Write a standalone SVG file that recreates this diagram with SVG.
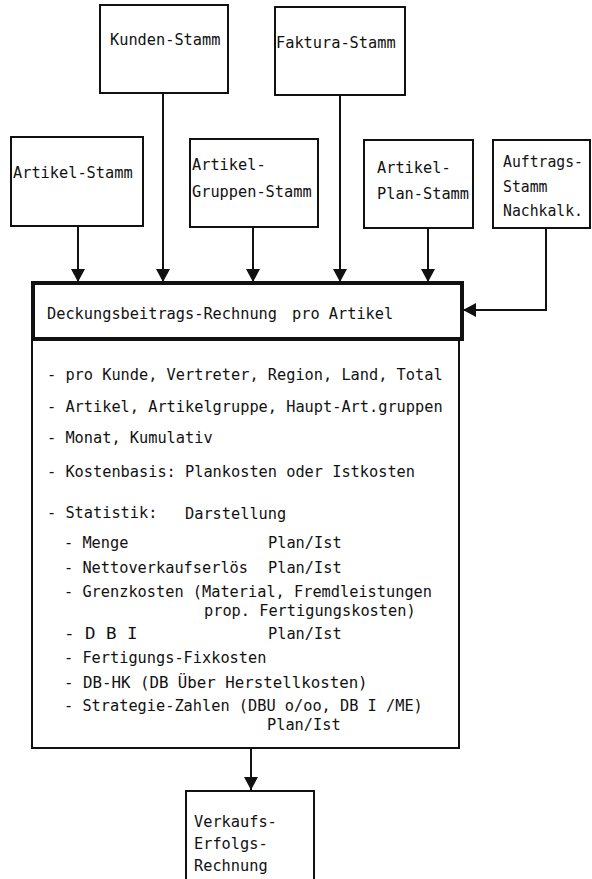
<svg xmlns="http://www.w3.org/2000/svg" width="592" height="879" viewBox="0 0 592 879">
<defs>
<style>
.box{fill:#fff;stroke:#111;stroke-width:2}
.hdr{fill:#fff;stroke:#111;stroke-width:4}
.body{fill:#fff;stroke:#111;stroke-width:2}
.t{font-family:"DejaVu Sans Mono","Liberation Mono",monospace;font-size:16px;fill:#111}
.s{font-size:15px}
.c{fill:none;stroke:#111;stroke-width:2}
</style>
<marker id="ah" markerUnits="userSpaceOnUse" markerWidth="14" markerHeight="14" viewBox="0 0 14 14" refX="13" refY="7" orient="auto">
<path d="M0,0 L13,7 L0,14 z" fill="#111"/>
</marker>
</defs>
<rect width="592" height="879" fill="#fff"/>

<g id="connectors">
<line class="c" x1="78" y1="226" x2="78" y2="282" marker-end="url(#ah)"/>
<line class="c" x1="163" y1="93" x2="163" y2="282" marker-end="url(#ah)"/>
<line class="c" x1="253" y1="227" x2="253" y2="282" marker-end="url(#ah)"/>
<line class="c" x1="340" y1="95" x2="340" y2="282" marker-end="url(#ah)"/>
<line class="c" x1="428" y1="228" x2="428" y2="282" marker-end="url(#ah)"/>
<polyline class="c" points="546,228 546,310 463,310" marker-end="url(#ah)"/>
<line class="c" x1="251" y1="748" x2="251" y2="790" marker-end="url(#ah)"/>
</g>

<g id="kunden-stamm">
<rect class="box" x="100" y="5" width="128" height="88"/>
<text class="t" x="110" y="45" textLength="110.4" lengthAdjust="spacingAndGlyphs">Kunden-Stamm</text>
</g>
<g id="faktura-stamm">
<rect class="box" x="275" y="7" width="130" height="88"/>
<text class="t" x="276" y="48" textLength="119.6" lengthAdjust="spacingAndGlyphs">Faktura-Stamm</text>
</g>
<g id="artikel-stamm">
<rect class="box" x="11" y="137" width="132" height="89"/>
<text class="t" x="13" y="178" textLength="119.6" lengthAdjust="spacingAndGlyphs">Artikel-Stamm</text>
</g>
<g id="artikel-gruppen-stamm">
<rect class="box" x="190" y="139" width="128" height="88"/>
<text class="t" x="192" y="170" textLength="73.6" lengthAdjust="spacingAndGlyphs">Artikel-</text>
<text class="t" x="192" y="197" textLength="119.6" lengthAdjust="spacingAndGlyphs">Gruppen-Stamm</text>
</g>
<g id="artikel-plan-stamm">
<rect class="box" x="364" y="140" width="109" height="88"/>
<text class="t" x="377" y="173" textLength="73.6" lengthAdjust="spacingAndGlyphs">Artikel-</text>
<text class="t" x="377" y="199" textLength="92" lengthAdjust="spacingAndGlyphs">Plan-Stamm</text>
</g>
<g id="auftrags-stamm">
<rect class="box" x="493" y="140" width="97" height="88"/>
<text class="t" x="503" y="167" textLength="80" lengthAdjust="spacingAndGlyphs">Auftrags-</text>
<text class="t" x="503" y="192" textLength="44.5" lengthAdjust="spacingAndGlyphs">Stamm</text>
<text class="t" x="503" y="216" textLength="80" lengthAdjust="spacingAndGlyphs">Nachkalk.</text>
</g>

<g id="deckungsbeitrags-rechnung">
<rect class="body" x="32" y="339" width="427" height="409"/>
<rect class="hdr" x="33" y="283" width="429" height="56"/>
<text class="t" x="47" y="319" textLength="230" lengthAdjust="spacingAndGlyphs">Deckungsbeitrags-Rechnung</text>
<text class="t" x="292" y="319" textLength="101.2" lengthAdjust="spacingAndGlyphs">pro Artikel</text>
<text class="t" x="47" y="380" textLength="395.6" lengthAdjust="spacingAndGlyphs">- pro Kunde, Vertreter, Region, Land, Total</text>
<text class="t" x="47" y="412" textLength="395.6" lengthAdjust="spacingAndGlyphs">- Artikel, Artikelgruppe, Haupt-Art.gruppen</text>
<text class="t" x="47" y="443" textLength="165.6" lengthAdjust="spacingAndGlyphs">- Monat, Kumulativ</text>
<text class="t" x="47" y="477" textLength="368" lengthAdjust="spacingAndGlyphs">- Kostenbasis: Plankosten oder Istkosten</text>
<text class="t" x="47" y="518" textLength="110.4" lengthAdjust="spacingAndGlyphs">- Statistik:</text>
<text class="t" x="185" y="519" textLength="101.2" lengthAdjust="spacingAndGlyphs">Darstellung</text>
<text class="t" x="64" y="548" textLength="64.4" lengthAdjust="spacingAndGlyphs">- Menge</text>
<text class="t" x="268" y="548" textLength="73.6" lengthAdjust="spacingAndGlyphs">Plan/Ist</text>
<text class="t" x="64" y="573" textLength="184" lengthAdjust="spacingAndGlyphs">- Nettoverkaufserlös</text>
<text class="t" x="268" y="573" textLength="73.6" lengthAdjust="spacingAndGlyphs">Plan/Ist</text>
<text class="t s" x="64" y="597" textLength="368" lengthAdjust="spacingAndGlyphs">- Grenzkosten (Material, Fremdleistungen</text>
<text class="t s" x="204" y="616" textLength="211.6" lengthAdjust="spacingAndGlyphs">prop. Fertigungskosten)</text>
<text class="t" x="64" y="639" textLength="73.6" lengthAdjust="spacingAndGlyphs">- D B  I</text>
<text class="t" x="268" y="639" textLength="73.6" lengthAdjust="spacingAndGlyphs">Plan/Ist</text>
<text class="t" x="64" y="663" textLength="202.4" lengthAdjust="spacingAndGlyphs">- Fertigungs-Fixkosten</text>
<text class="t" x="64" y="688" textLength="303.6" lengthAdjust="spacingAndGlyphs">- DB-HK  (DB Über Herstellkosten)</text>
<text class="t s" x="64" y="711" textLength="358.8" lengthAdjust="spacingAndGlyphs">- Strategie-Zahlen (DBU o/oo, DB I /ME)</text>
<text class="t s" x="267" y="730" textLength="73.6" lengthAdjust="spacingAndGlyphs">Plan/Ist</text>
</g>

<g id="verkaufs-erfolgs-rechnung">
<rect class="box" x="186" y="791" width="128" height="100"/>
<text class="t" x="194" y="827" textLength="82.8" lengthAdjust="spacingAndGlyphs">Verkaufs-</text>
<text class="t" x="194" y="849" textLength="73.6" lengthAdjust="spacingAndGlyphs">Erfolgs-</text>
<text class="t" x="194" y="871" textLength="73.6" lengthAdjust="spacingAndGlyphs">Rechnung</text>
</g>
</svg>
